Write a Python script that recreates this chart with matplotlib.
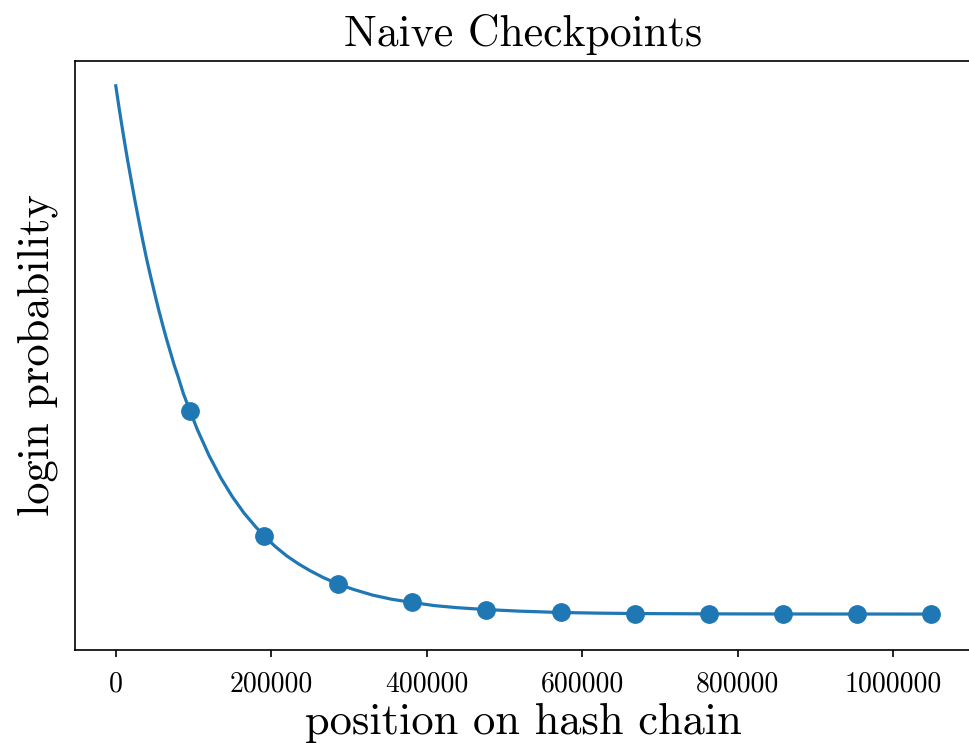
import matplotlib
matplotlib.use("Agg")
import matplotlib.pyplot as plt

plt.rcParams.update({
    'font.family': 'cmr10',
    'mathtext.fontset': 'cm',
    'axes.unicode_minus': False,
    'axes.formatter.use_mathtext': True,
})

# Data (y in relative units, no y ticks shown)
# curve: position on hash chain vs login probability
curve_x = [0, 5000, 10000, 15000, 20000, 25000, 30000, 35000, 40000, 45000,
           50000, 55000, 60000, 65000, 70000, 75000, 80000, 87000, 95325,
           105000, 120000, 135000, 150000, 165000, 180000, 190650,
           205000, 220000, 235000, 250000, 267000, 285975, 305000, 330000,
           355000, 381300, 410000, 440000, 476600, 520000, 571950, 620000,
           667275, 762600, 857925, 953250, 1048576]
curve_y = [1.000, 0.951, 0.905, 0.861, 0.820, 0.780, 0.742, 0.705, 0.670, 0.638,
           0.607, 0.577, 0.549, 0.522, 0.497, 0.472, 0.450, 0.417, 0.385,
           0.349, 0.300, 0.258, 0.222, 0.191, 0.165, 0.148,
           0.128, 0.110, 0.095, 0.082, 0.069, 0.057, 0.047, 0.036,
           0.028, 0.022, 0.016, 0.012, 0.0085, 0.0055, 0.003, 0.0018,
           0.001, 0.0004, 0.0002, 0.0001, 0.00003]

# checkpoints
check_x = [95325, 190650, 285975, 381300, 476625, 571950, 667275, 762600,
           857925, 953250, 1048576]
check_y = [0.385, 0.148, 0.057, 0.022, 0.0085, 0.003, 0.001, 0.0004,
           0.0002, 0.0001, 0.00003]

fig = plt.figure(figsize=(9.69, 7.43), dpi=100)
ax = fig.add_axes([75 / 969, 93 / 743, 897 / 969, 589 / 743])

ax.plot(curve_x, curve_y, color='#1f77b4', linewidth=2.3)
ax.plot(check_x, check_y, 'o', color='#1f77b4', markersize=12.5)

ax.set_xlim(-52429, 1101005)
ax.set_ylim(-0.068, 1.047)
ax.set_yticks([])
ax.set_xticks([0, 200000, 400000, 600000, 800000, 1000000])
ax.set_xticklabels(['0', '200000', '400000', '600000', '800000', '1000000'])
ax.tick_params(axis='x', labelsize=20, length=5, width=1.2, pad=10)

for s in ax.spines.values():
    s.set_linewidth(1.2)
# right edge is cut off in the original picture
ax.spines['right'].set_visible(False)

ax.set_title('Naive Checkpoints', fontsize=31.5, pad=11)
ax.set_xlabel('position on hash chain', fontsize=32, labelpad=4)
ax.set_ylabel('login probability', fontsize=32, labelpad=12)

fig.savefig('out.png', dpi=100)
